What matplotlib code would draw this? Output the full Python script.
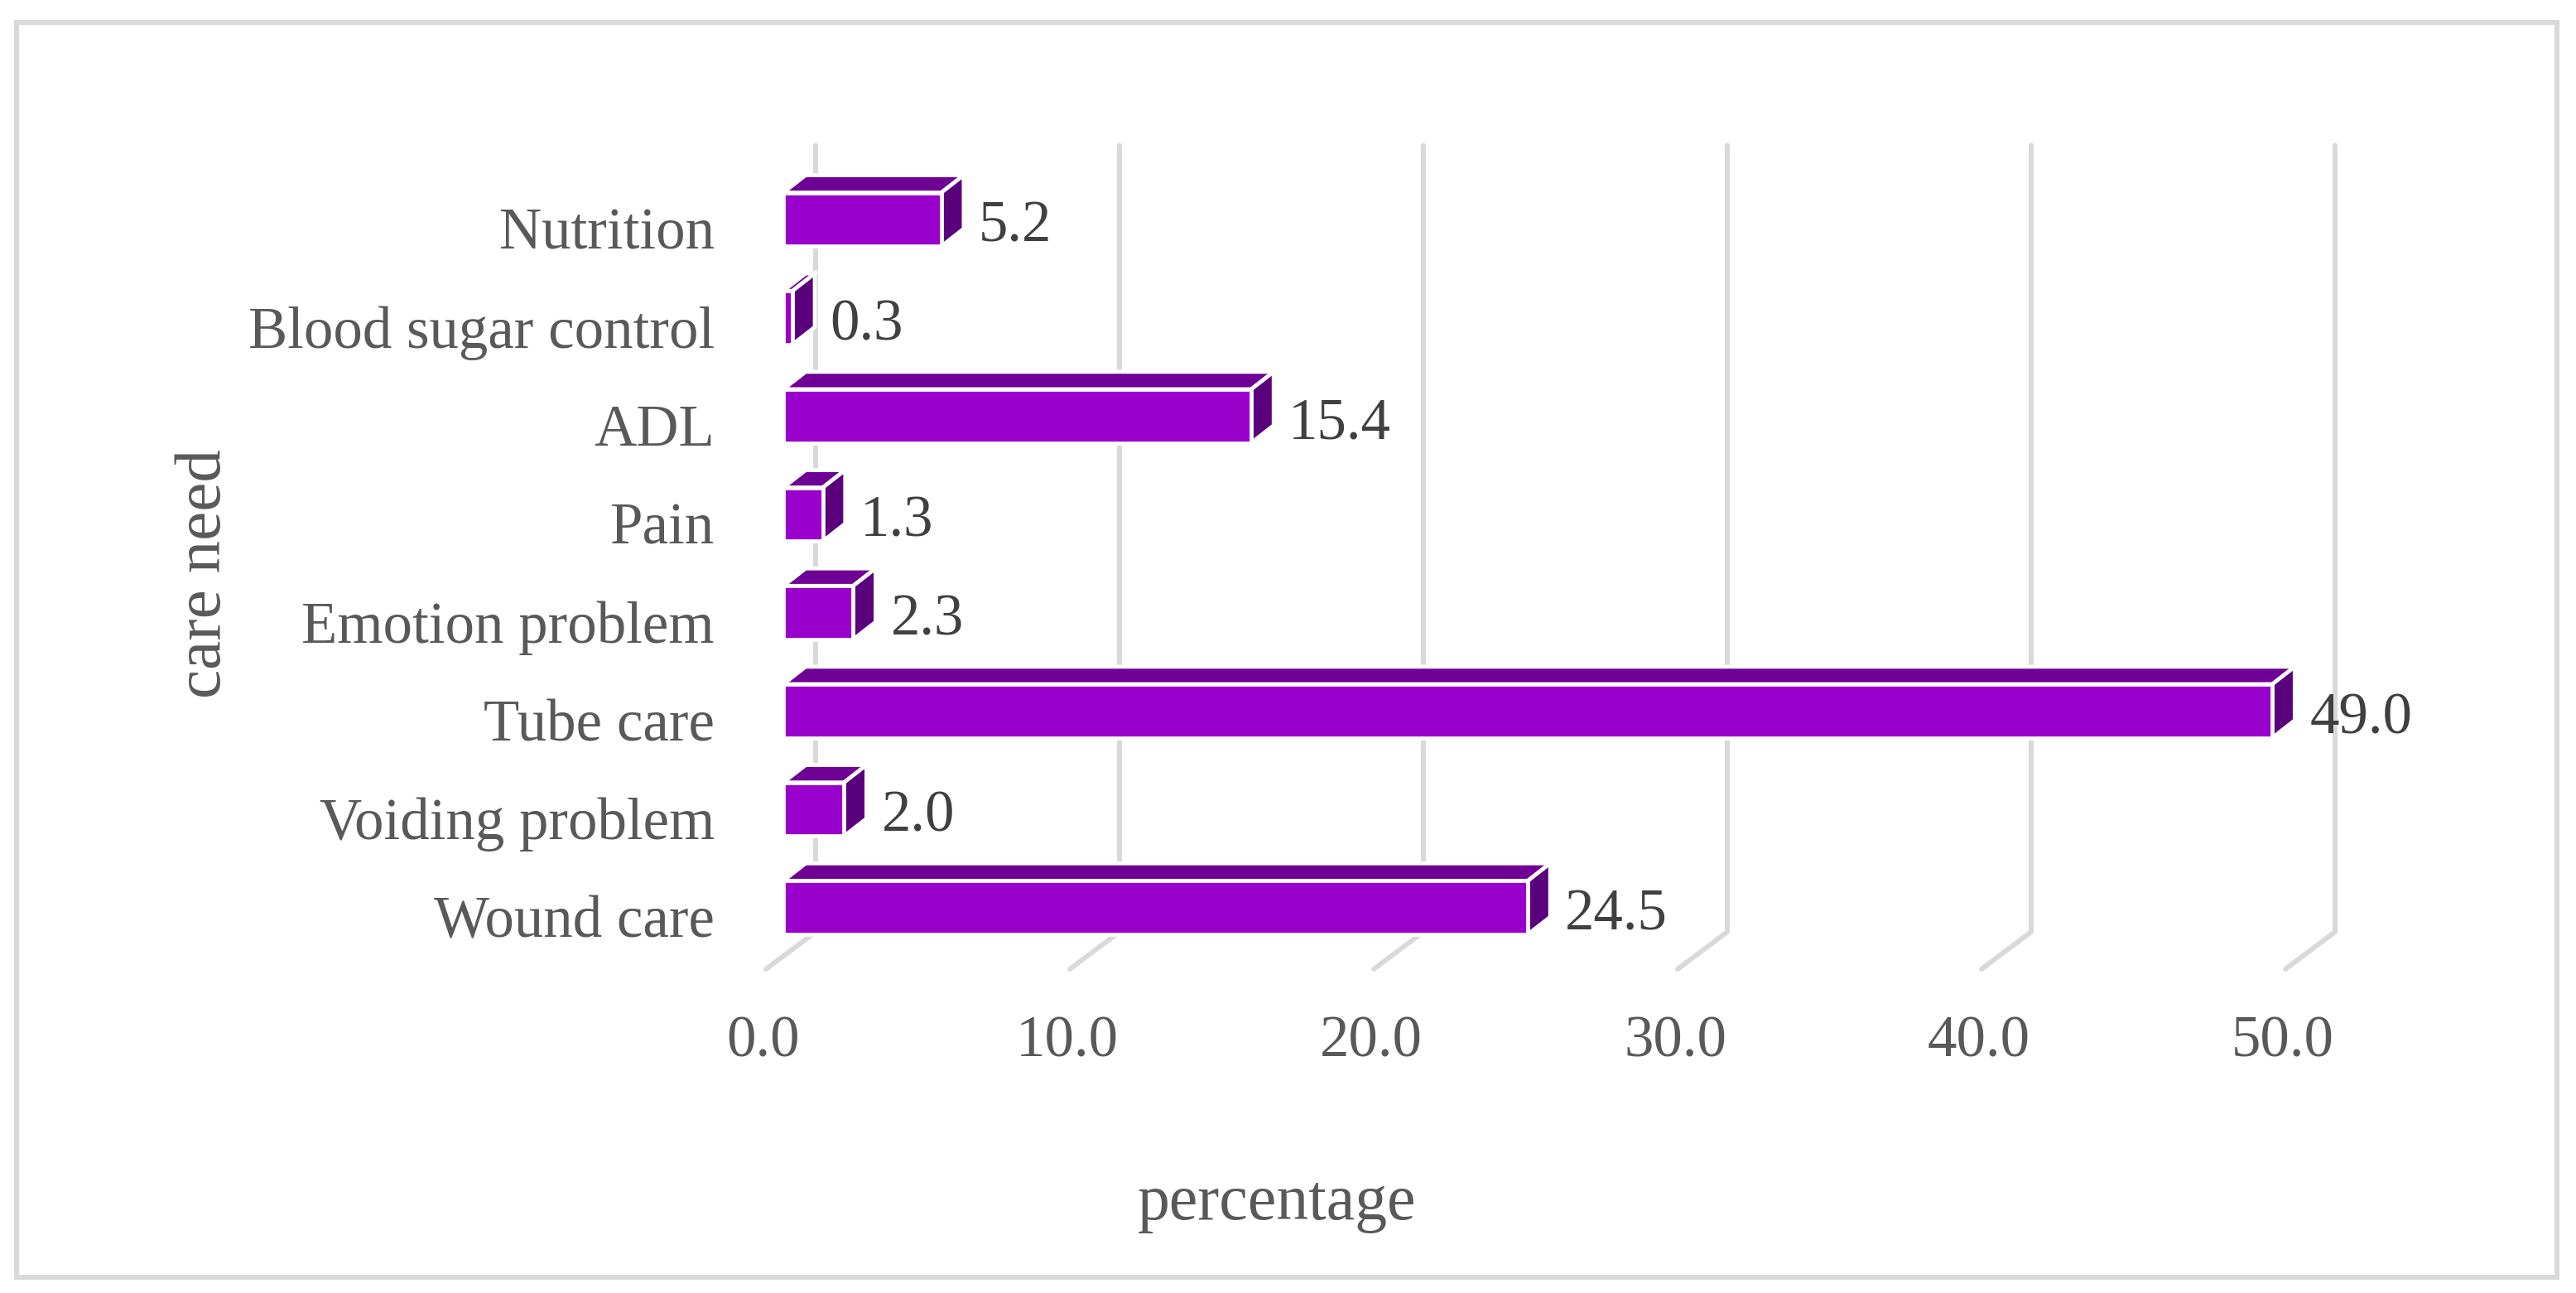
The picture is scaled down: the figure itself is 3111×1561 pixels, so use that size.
"""
Excel-style 3D horizontal bar chart of care needs (percentage).
"""

import matplotlib
matplotlib.use("Agg")
import matplotlib.pyplot as plt
from matplotlib.patches import Polygon, Rectangle
from matplotlib.transforms import offset_copy

categories = ["Nutrition", "Blood sugar control", "ADL", "Pain",
              "Emotion problem", "Tube care", "Voiding problem", "Wound care"]
values = [5.2, 0.3, 15.4, 1.3, 2.3, 49.0, 2.0, 24.5]
x_ticks = [0, 10, 20, 30, 40, 50]
x_tick_labels = ["0.0", "10.0", "20.0", "30.0", "40.0", "50.0"]

FRONT = "#9900cc"
TOP = "#6e0096"
SIDE = "#5a007c"
GRID = "#d9d9d9"
TXT = "#595959"
LBL = "#404040"

W, H, DPI = 3111, 1561, 100
plt.rcParams["font.family"] = ["Liberation Serif", "DejaVu Serif"]

fig = plt.figure(figsize=(W / DPI, H / DPI), dpi=DPI)

left, right, top, bottom = 925, 2760, 220.5, 1170
ax = fig.add_axes([left / W, 1 - bottom / H, (right - left) / W, (bottom - top) / H])
ax.set_xlim(0, 50)
ax.set_ylim(len(categories) - 0.5, -0.5)
ax.axis("off")

WALL = (60, 45)        # back wall offset in pixels (right, up)
BAR_OFF = (21, 15)     # bar front face offset from front plane
BAR_DEPTH = (27, 21)   # bar depth
BAR_H = 0.545          # bar thickness in category units


def at(x, y, dx=0, dy=0):
    px, py = ax.transData.transform((x, y))
    return ax.transData.inverted().transform((px + dx, py + dy))


# back-wall gridlines + floor diagonals
y0, y1 = -0.5, len(categories) - 0.5
for t in x_ticks:
    pts = [at(t, y0, *WALL), at(t, y1, *WALL), at(t, y1)]
    ax.plot([p[0] for p in pts], [p[1] for p in pts], color=GRID, lw=4.3,
            solid_capstyle="round", solid_joinstyle="round",
            clip_on=False, zorder=1)

# bars
fx, fy = BAR_OFF
bx, by = fx + BAR_DEPTH[0], fy + BAR_DEPTH[1]
for i, v in enumerate(values):
    lo, hi = i + BAR_H / 2, i - BAR_H / 2   # lo is visually lower (inverted y)
    front = [at(0, lo, fx, fy), at(v, lo, fx, fy), at(v, hi, fx, fy), at(0, hi, fx, fy)]
    topf = [at(0, hi, fx, fy), at(v, hi, fx, fy), at(v, hi, bx, by), at(0, hi, bx, by)]
    side = [at(v, hi, fx, fy), at(v, lo, fx, fy), at(v, lo, bx, by), at(v, hi, bx, by)]
    for poly, col in [(topf, TOP), (side, SIDE), (front, FRONT)]:
        ax.add_patch(Polygon(poly, closed=True, facecolor=col, edgecolor="white",
                             lw=3.4, joinstyle="miter", clip_on=False, zorder=3))
    ax.text(v, i, f"{v:.1f}", ha="left", va="baseline", fontsize=51, color=LBL,
            transform=offset_copy(ax.transData, fig, x=66, y=-12, units="dots"),
            zorder=5)

# category labels
for i, name in enumerate(categories):
    ax.text(0, i, name, ha="right", va="baseline", fontsize=51, color=TXT,
            transform=offset_copy(ax.transData, fig, x=-62, y=-21, units="dots"))

# x tick labels
for t, lab in zip(x_ticks, x_tick_labels):
    ax.text(t, y1, lab, ha="center", va="baseline", fontsize=51, color=TXT,
            transform=offset_copy(ax.transData, fig, x=-3, y=-105, units="dots"))

# axis titles
fig.text(1542 / W, 1 - 1472 / H, "percentage", ha="center", va="baseline",
         fontsize=56, color=TXT)
fig.text(247 / W, 1 - 693 / H, "care need", ha="center", va="center",
         rotation=90, fontsize=57, color=TXT)

# chart border
fig.add_artist(Rectangle((20 / W, 1 - 1542 / H), (3088 - 20) / W, (1542 - 27) / H,
                         transform=fig.transFigure, fill=False,
                         edgecolor=GRID, lw=4.3))

fig.savefig("out.png", dpi=DPI)
